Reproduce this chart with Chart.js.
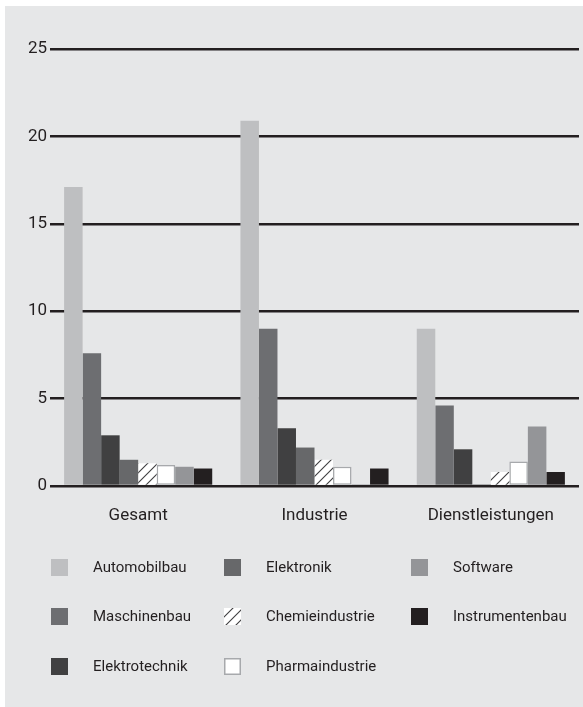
<!DOCTYPE html>
<html>
<head>
<meta charset="utf-8">
<script src="https://cdn.jsdelivr.net/npm/chart.js@4/dist/chart.umd.min.js"></script>
<style>
  html, body { margin: 0; padding: 0; background: #ffffff; }
  #wrap { position: absolute; left: 5px; top: 6px; width: 578px; height: 701px; background: #e6e7e8; }
  canvas { display: block; }
</style>
</head>
<body>
<div id="wrap"><canvas id="c" width="578" height="701"></canvas></div>
<script>
const categories = ['Gesamt', 'Industrie', 'Dienstleistungen'];
const seriesNames = ['Automobilbau', 'Maschinenbau', 'Elektrotechnik', 'Elektronik',
                     'Chemieindustrie', 'Pharmaindustrie', 'Software', 'Instrumentenbau'];
const automobilbau    = [17.1, 20.9, 9.0];
const maschinenbau    = [7.6, 9.0, 4.6];
const elektrotechnik  = [2.9, 3.3, 2.1];
const elektronik      = [1.5, 2.2, 0.1];
const chemieindustrie = [1.3, 1.5, 0.8];
const pharmaindustrie = [1.2, 1.1, 1.4];
const software        = [1.1, 0.1, 3.4];
const instrumentenbau = [1.0, 1.0, 0.8];
const yTicks = [0, 5, 10, 15, 20, 25];

const seriesValues = [automobilbau, maschinenbau, elektrotechnik, elektronik,
                      chemieindustrie, pharmaindustrie, software, instrumentenbau];

function hatch() {
  const s = 10;
  const p = document.createElement('canvas');
  p.width = s; p.height = s;
  const g = p.getContext('2d');
  g.fillStyle = '#ffffff';
  g.fillRect(0, 0, s, s);
  g.strokeStyle = '#3f3f41';
  g.lineWidth = 1.1;
  g.beginPath();
  g.moveTo(-1, s + 1); g.lineTo(s + 1, -1);
  g.moveTo(-1, 1); g.lineTo(1, -1);
  g.moveTo(s - 1, s + 1); g.lineTo(s + 1, s - 1);
  g.stroke();
  return g.createPattern(p, 'repeat');
}

const ctx = document.getElementById('c').getContext('2d');
const hatchPattern = hatch();
const fills = ['#bebfc1', '#6d6e71', '#404041', '#67686a', hatchPattern, '#ffffff', '#949598', '#231f20'];
const borders = [null, null, null, null, null, '#a7a9ac', null, null];

const FONT = 'Roboto, "Liberation Sans", sans-serif';

const legendPlugin = {
  id: 'gridLegend',
  afterDraw(chart) {
    const c = chart.ctx;
    const colX = [46, 219, 406];
    const rowY = [553, 602, 652];
    const textX = [88, 261, 448];
    const sw = 17;
    c.save();
    chart.data.datasets.forEach((ds, i) => {
      const col = Math.floor(i / 3), row = i % 3;
      const x = colX[col], y = rowY[row];
      c.fillStyle = ds.backgroundColor;
      c.fillRect(x, y, sw, sw);
      if (ds.borderWidth) {
        c.strokeStyle = ds.borderColor;
        c.lineWidth = 1.5;
        c.strokeRect(x + 0.75, y + 0.75, sw - 1.5, sw - 1.5);
      }
      c.fillStyle = '#231f20';
      c.font = '15px ' + FONT;
      c.textBaseline = 'middle';
      c.textAlign = 'left';
      c.fillText(ds.label, textX[col], y + sw / 2 + 0.5);
    });
    c.restore();
  }
};

new Chart(ctx, {
  type: 'bar',
  data: {
    labels: categories,
    datasets: seriesNames.map((name, i) => ({
      label: name,
      data: seriesValues[i],
      backgroundColor: fills[i],
      borderColor: borders[i] || 'rgba(0,0,0,0)',
      borderWidth: borders[i] ? 1.5 : 0,
      borderSkipped: false,
      categoryPercentage: 0.84,
      barPercentage: 1.0
    }))
  },
  options: {
    responsive: false,
    animation: false,
    events: [],
    layout: { padding: { left: 0, right: 4, top: 43, bottom: 181 } },
    plugins: { legend: { display: false }, tooltip: { enabled: false }, title: { display: false } },
    scales: {
      x: {
        grid: { display: false },
        border: { display: false },
        ticks: { color: '#231f20', font: { family: FONT, size: 17 }, padding: 12 },
        afterFit(s) { s.height = 40; }
      },
      y: {
        min: 0, max: 25,
        afterBuildTicks(s) { s.ticks = yTicks.map(v => ({ value: v })); },
        grid: { color: '#231f20', lineWidth: 2.6, drawTicks: false },
        border: { display: false },
        ticks: { color: '#231f20', font: { family: FONT, size: 17 }, padding: 3 },
        afterFit(s) { s.width = 45; }
      }
    }
  },
  plugins: [legendPlugin]
});
</script>
</body>
</html>
